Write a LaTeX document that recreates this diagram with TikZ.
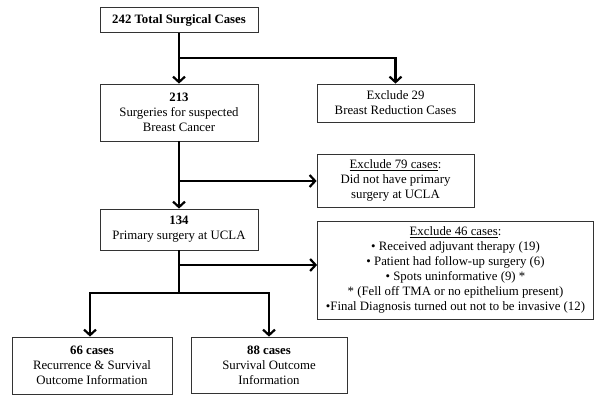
\documentclass[tikz,border=0pt]{standalone}
\usepackage{fontspec}
\setmainfont{Liberation Serif}[BoldFont={Liberation Serif Bold}]
\usetikzlibrary{arrows.meta}

\tikzset{
	box/.style={draw=black!80, line width=0.8pt, align=center, inner sep=2pt,
		font=\fontsize{12.8}{15}\selectfont},
	flow/.style={line width=2.4pt, -{Straight Barb[length=5.5pt, width=12pt, line width=2.2pt]}},
}

\begin{document}
\begin{tikzpicture}[x=1pt, y=1pt]
			\useasboundingbox (0,0) rectangle (600,-403);

			% Draw the boxes of the main column
			\node[box, minimum width=158pt, minimum height=25pt] (total) at (179,-20) {\textbf{242 Total Surgical Cases}};
			\node[box, minimum width=158pt, minimum height=57pt] (suspect) at (179,-112.5) {\textbf{213}\\Surgeries for suspected\\Breast Cancer};
			\node[box, minimum width=158pt, minimum height=41pt] (primary) at (179,-229.5) {\textbf{134}\\Primary surgery at UCLA};

			% Draw the boxes of the excluded cases
			\node[box, minimum width=157pt, minimum height=38pt] (reduction) at (395.5,-103) {Exclude 29\\Breast Reduction Cases};
			\node[box, minimum width=157pt, minimum height=53pt] (notucla) at (395.5,-180.5) {\underline{Exclude 79 cases}:\\Did not have primary\\surgery at UCLA};
			\node[box, minimum width=276pt, minimum height=98pt] (excl46) at (455.5,-270) {\underline{Exclude 46 cases}:\\
				• Received adjuvant therapy (19)\\
				• Patient had follow-up surgery (6)\\
				• Spots uninformative (9) *\\
				* (Fell off TMA or no epithelium present)\\
				•Final Diagnosis turned out not to be invasive (12)};

			% Draw the boxes of the outcome
			\node[box, minimum width=160pt, minimum height=57pt] (recurrence) at (92,-365.5) {\textbf{66 cases}\\Recurrence \& Survival\\Outcome Information};
			\node[box, minimum width=156pt, minimum height=56pt] (survival) at (269,-365) {\textbf{88 cases}\\Survival Outcome\\Information};

			% Branch points on the main column
			\coordinate (split1) at (179,-58);
			\coordinate (split2) at (179,-181);
			\coordinate (split3) at (179,-265);
			\coordinate (split4) at (179,-293);

			% Draw the arrows
			\draw[flow] (total) -- (suspect);
			\draw[flow] (split1) -| (reduction);
			\draw[flow] (suspect) -- (primary);
			\draw[flow] (split2) -- (split2 -| notucla.west);
			\draw[flow, -] (primary) -- (split4);
			\draw[flow] (split3) -- (split3 -| excl46.west);
			\draw[flow] (split4) -| (recurrence.north -| 90,0);
			\draw[flow] (split4) -| (survival);

		\end{tikzpicture}
\end{document}
